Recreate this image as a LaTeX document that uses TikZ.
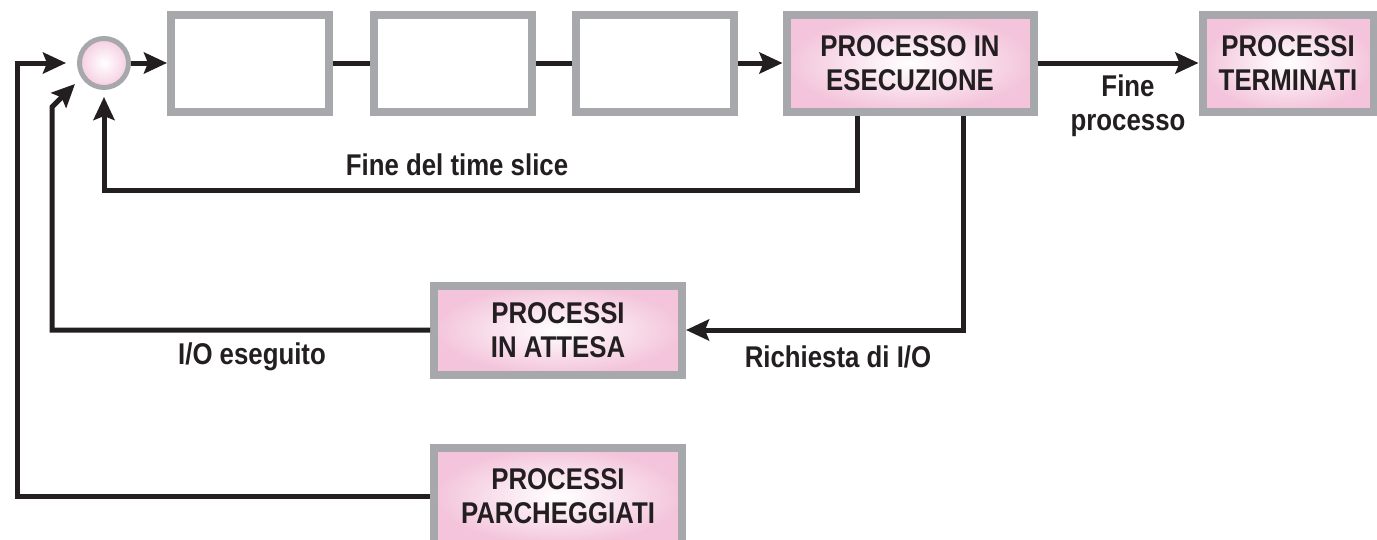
\documentclass[tikz,border=0pt]{standalone}
\usepackage{fontspec}
\setmainfont{Liberation Sans}[FakeStretch=0.86]
\usetikzlibrary{arrows.meta}
\definecolor{boxgray}{RGB}{166,168,171}
\definecolor{pinkedge}{RGB}{243,196,219}
\definecolor{pinkcirc}{RGB}{246,205,224}
\definecolor{inkc}{RGB}{35,31,32}
\begin{document}
\begin{tikzpicture}[x=1pt,y=-1pt,
  box/.style={draw=boxgray, line width=8pt, minimum height=97pt, inner sep=0pt, align=center,
    font=\bfseries\fontsize{30}{34}\selectfont, text=inkc},
  plainbox/.style={box, fill=white, minimum width=158pt},
  pinkbox/.style={box, inner color=white, outer color=pinkedge},
  conn/.style={draw=inkc, line width=5pt},
  arr/.style={conn, -{Stealth[length=23pt,width=21pt,inset=4pt]}},
  lbl/.style={font=\bfseries\fontsize{30}{34}\selectfont, text=inkc, align=center, inner sep=0pt}]
\useasboundingbox (0,0) rectangle (1377,539);
% nodes
\node[draw=boxgray, line width=5pt, circle, minimum size=49pt, inner sep=0pt,
      inner color=white, outer color=pinkcirc] (c) at (104,63) {};
\node[plainbox] (b1) at (250,63) {};
\node[plainbox] (b2) at (453,63) {};
\node[plainbox] (b3) at (655,63) {};
\node[pinkbox, minimum width=247pt] (b4) at (910,63) {PROCESSO IN\\ESECUZIONE};
\node[pinkbox, minimum width=171pt] (b5) at (1288,63) {PROCESSI\\TERMINATI};
\node[pinkbox, minimum width=248pt, minimum height=89pt] (b6) at (558,330) {PROCESSI\\IN ATTESA};
\node[pinkbox, minimum width=248pt] (b7) at (558,496.5) {PROCESSI\\PARCHEGGIATI};
% labels
\node[lbl] (lfp) at (1128,106) {Fine\\processo};
\node[lbl] (lts) at (457,165) {Fine del time slice};
\node[lbl] (lri) at (838,357) {Richiesta di I/O};
\node[lbl] (lio) at (252,357) {I/O eseguito};
% helper coordinates
\coordinate (t1) at (104,190);
\coordinate (k1) at (52,107);
\coordinate (k2) at (75,84);
\coordinate (k3) at (17,63);
\coordinate (k4) at (66,63);
% connectors
\draw[arr] (c) -- (b1);
\draw[conn] (b1) -- (b2);
\draw[conn] (b2) -- (b3);
\draw[arr] (b3) -- (b4);
\draw[arr] (b4) -- (b5);
\draw[arr, shorten >=7pt] ([xshift=-53pt]b4.south) |- (t1) -- (c);
\draw[arr] ([xshift=53pt]b4.south) |- (b6.east);
\draw[arr] (b6.west) -| (k1) -- (k2);
\draw[arr] (b7.west) -| (k3) -- (k4);
\end{tikzpicture}
\end{document}
